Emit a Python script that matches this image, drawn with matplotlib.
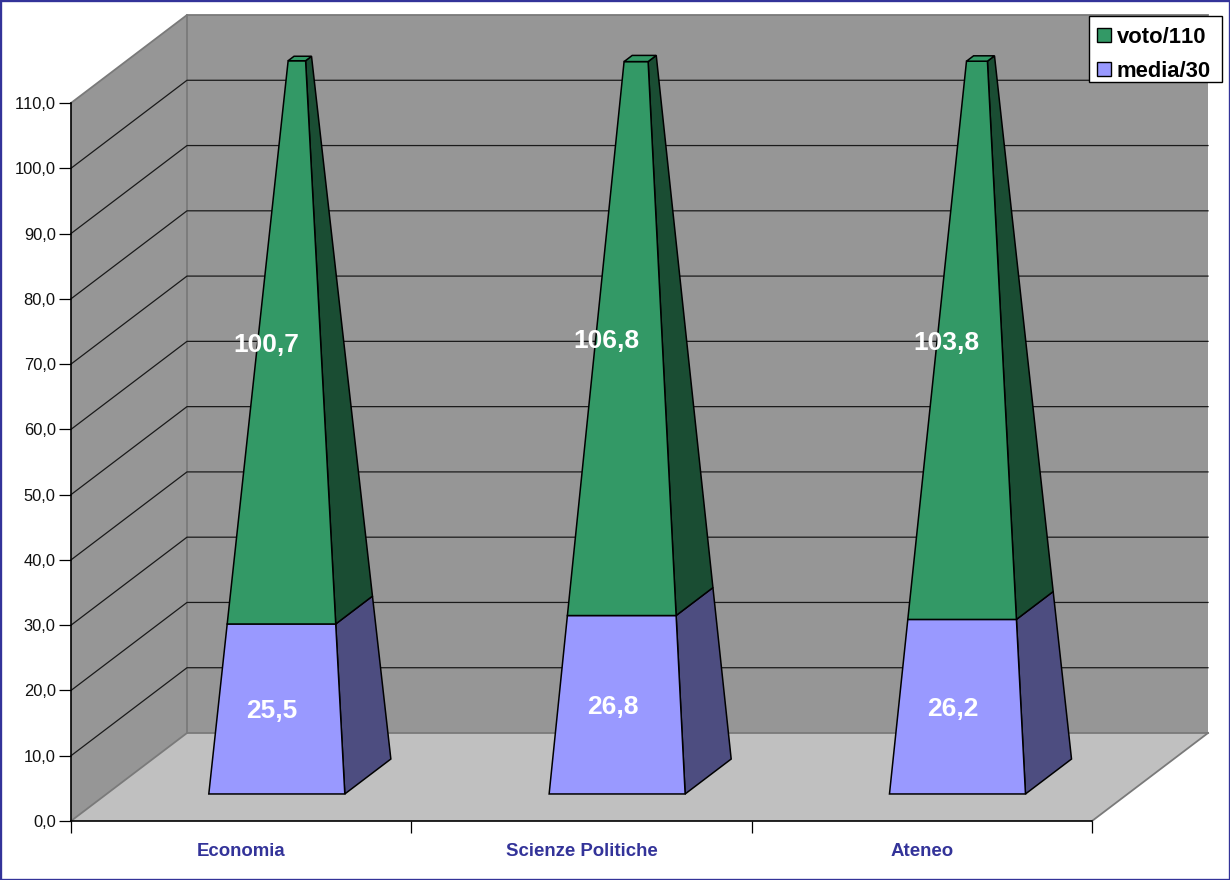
import matplotlib
matplotlib.use("Agg")
import matplotlib.pyplot as plt
from matplotlib.patches import Polygon, Rectangle, Patch

categories = ["Economia", "Scienze Politiche", "Ateneo"]
media_30 = [25.5, 26.8, 26.2]
voto_110 = [100.7, 106.8, 103.8]
media_labels = ["25,5", "26,8", "26,2"]
voto_labels = ["100,7", "106,8", "103,8"]
y_ticks = list(range(0, 111, 10))
y_max = 110

plt.rcParams["font.family"] = ["Liberation Sans", "DejaVu Sans"]
plt.rcParams["text.kerning_factor"] = 6

W, H = 1230, 880
fig = plt.figure(figsize=(W / 100, H / 100), dpi=100, facecolor="white")
fig.add_artist(Rectangle((0, 0), 1, 1, transform=fig.transFigure, fill=False,
                         edgecolor="#333399", linewidth=2.4, clip_on=False))
ax = fig.add_axes([71 / W, 1 - 821 / H, (1092 - 71) / W, (821 - 103) / H])
ax.set_xlim(0, 3)
ax.set_ylim(0, y_max)
ax.patch.set_alpha(0)

# oblique projection of depth in axes units
DX = 116 / (1021 / 3)
DY = 88 / (718 / 110)
HW = 68 / (1021 / 3)     # half base width
DC, HD = 0.5057, 0.1985  # depth centre, half depth


def wall(pts, fc, z=1, ec="none", lw=0):
    ax.add_patch(Polygon(pts, closed=True, facecolor=fc, edgecolor=ec, linewidth=lw,
                         clip_on=False, zorder=z))


WALL, FLOOR, EDGE = "#969696", "#C0C0C0", "#7A7A7A"
wall([(DX, DY), (3 + DX, DY), (3 + DX, DY + y_max), (DX, DY + y_max)], WALL)
wall([(0, 0), (DX, DY), (DX, DY + y_max), (0, y_max)], WALL)
wall([(0, 0), (3, 0), (3 + DX, DY), (DX, DY)], FLOOR, z=1.1)
for pts in ([(0, y_max), (DX, DY + y_max), (3 + DX, DY + y_max)],
            [(0, 0), (DX, DY), (3 + DX, DY)],
            [(3, 0), (3 + DX, DY)],
            [(DX, DY), (DX, DY + y_max)]):
    ax.plot(*zip(*pts), color=EDGE, lw=1.3, zorder=1.2, clip_on=False)
for v in y_ticks[1:-1]:
    ax.plot([0, DX, 3 + DX], [v, v + DY, v + DY], color="#1a1a1a", lw=0.9,
            zorder=1.3, clip_on=False)


def corner(i, total, v, sx, sd):
    t = 1 - v / total
    d = DC + sd * HD * t
    return (i + 0.5 + sx * HW * t + d * DX, v + d * DY)


def segment(i, total, v0, v1, front, side, top=False):
    k = dict(facecolor=None, edgecolor="black", linewidth=1.1, clip_on=False, zorder=3)
    c = lambda v, sx, sd: corner(i, total, v, sx, sd)
    ax.add_patch(Polygon([c(v0, 1, -1), c(v0, 1, 1), c(v1, 1, 1), c(v1, 1, -1)],
                         closed=True, **{**k, "facecolor": side}))
    ax.add_patch(Polygon([c(v0, -1, -1), c(v0, 1, -1), c(v1, 1, -1), c(v1, -1, -1)],
                         closed=True, **{**k, "facecolor": front}))
    if top:
        ax.add_patch(Polygon([c(v1, -1, -1), c(v1, 1, -1), c(v1, 1, 1), c(v1, -1, 1)],
                             closed=True, **{**k, "facecolor": front}))


BLUE, BLUE_D, GREEN, GREEN_D = "#9999FF", "#4D4D80", "#339966", "#1A4D33"
LABEL_DY = -0.35
for i, (m, w) in enumerate(zip(media_30, voto_110)):
    total = m + w
    segment(i, total, 0, m, BLUE, BLUE_D)
    segment(i, total, m, min(total, y_max), GREEN, GREEN_D, top=True)
    tm = 1 - (m / 2) / total
    ax.text(i + 0.5 + 0.091, m / 2 + (DC - HD * tm) * DY + LABEL_DY, media_labels[i],
            color="white", fontsize=19, fontweight="bold", ha="center", va="center", zorder=5)
    mid = (m + y_max) / 2
    tv = 1 - mid / total
    ax.text(i + 0.5 + 0.0735, mid + (DC - HD * tv) * DY + LABEL_DY, voto_labels[i],
            color="white", fontsize=19, fontweight="bold", ha="center", va="center", zorder=5)

for s in ("top", "right"):
    ax.spines[s].set_visible(False)
for s in ("left", "bottom"):
    ax.spines[s].set_color("black")
    ax.spines[s].set_linewidth(1.2)
    ax.spines[s].set_zorder(2)
ax.set_yticks(y_ticks)
ax.set_yticklabels([f"{v},0" for v in y_ticks], fontsize=11.9, color="#111111")
ax.tick_params(axis="y", length=8.5, width=0.9, pad=2.5)
ax.set_xticks(range(4))
ax.set_xticklabels([])
ax.tick_params(axis="x", length=8.5, width=0.9)
ax.set_xticks([i + 0.5 for i in range(3)], minor=True)
ax.set_xticklabels(categories, minor=True, fontsize=13.4, fontweight="bold", color="#333399")
ax.tick_params(axis="x", which="minor", length=0, pad=15.5)

# legend box drawn separately: the reference has uneven inner margins
fig.add_artist(Rectangle((1089 / W, 1 - 82 / H), 133 / W, 66 / H, transform=fig.transFigure,
                         facecolor="white", edgecolor="black", linewidth=1.0, zorder=9))
handles = [Patch(facecolor=GREEN, edgecolor="black", label="voto/110"),
           Patch(facecolor=BLUE, edgecolor="black", label="media/30")]
leg = fig.legend(handles=handles, loc="upper right", bbox_to_anchor=(1217 / W, 1 - 21 / H),
                 prop={"weight": "bold", "size": 15.8}, frameon=False,
                 handlelength=0.62, handleheight=0.62, handletextpad=0.28,
                 borderpad=0.27, labelspacing=0.58, borderaxespad=0)
leg.set_zorder(10)

fig.savefig("out.png", dpi=100)
